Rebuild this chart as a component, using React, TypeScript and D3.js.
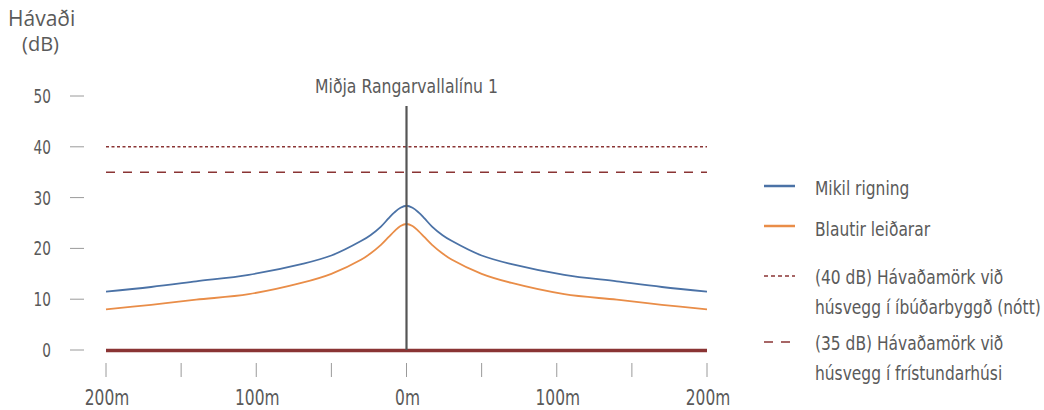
import * as d3 from 'd3'

// distance from line centre (m), negative = left side
const distances = [-200, -170, -140, -105, -70, -50, -30, -24, -17, -12, -8, -4, 0, 4, 8, 12, 17, 24, 30, 50, 70, 105, 140, 170, 200]
const heavyRain = [11.5, 12.4, 13.5, 14.8, 16.9, 18.6, 21.5, 22.6, 24.3, 25.9, 27.1, 28.0, 28.4, 28.0, 27.1, 25.9, 24.3, 22.6, 21.5, 18.6, 16.9, 14.8, 13.5, 12.4, 11.5]
const wetConductors = [8.0, 8.9, 9.9, 11.0, 13.2, 15.0, 17.8, 19.0, 20.7, 22.2, 23.4, 24.4, 24.8, 24.4, 23.4, 22.2, 20.7, 19.0, 17.8, 15.0, 13.2, 11.0, 9.9, 8.9, 8.0]

const yTicks = [0, 10, 20, 30, 40, 50]
const xTicks = [-200, -150, -100, -50, 0, 50, 100, 150, 200]
const xLabelTicks = [-200, -100, 0, 100, 200]

const limitNight = 40
const limitHoliday = 35

const BLUE = '#4b72a6'
const ORANGE = '#e98d48'
const RED = '#8a3434'
const TEXT = '#5a5a5a'
const COND = '"DejaVu Sans Condensed", "DejaVu Sans", sans-serif'

// condensed text: DejaVu Condensed squeezed horizontally to mimic the narrow face
function CText({ x, y, size, sx, anchor = 'start', children }: { x: number; y: number; size: number; sx: number; anchor?: string; children: any }) {
  return (
    <text
      transform={`translate(${x},${y}) scale(${sx},1)`}
      textAnchor={anchor}
      fontFamily={COND}
      fontSize={size}
      fill={TEXT}
    >
      {children}
    </text>
  )
}

export default function App() {
  const x = d3.scaleLinear().domain([-200, 200]).range([106, 707])
  const y = d3.scaleLinear().domain([0, 50]).range([350, 96])

  const line = d3.line<number>()
    .x((_, i) => x(distances[i]))
    .y(d => y(d))
    .curve(d3.curveCatmullRom.alpha(0.5))

  const legend = [
    { kind: 'blue', y: 186, base: 195, lines: ['Mikil rigning'] },
    { kind: 'orange', y: 226, base: 236, lines: ['Blautir leiðarar'] },
    { kind: 'dot', y: 276, base: 284, lines: ['(40 dB) Hávaðamörk við', 'húsvegg í íbúðarbyggð (nótt)'] },
    { kind: 'dash', y: 342, base: 350, lines: ['(35 dB) Hávaðamörk við', 'húsvegg í frístundarhúsi'] },
  ]

  return (
    <div style={{ position: 'absolute', left: 0, top: 0 }}>
      <svg width={1044} height={410} style={{ display: 'block', background: '#fff' }}>
        {/* axis title */}
        <text x={8} y={26} fontFamily='"Open Sans", sans-serif' fontSize={21} fill={TEXT}>Hávaði</text>
        <text x={22} y={51} fontFamily='"Open Sans", sans-serif' fontSize={20} fill={TEXT}>(dB)</text>

        {/* y ticks */}
        {yTicks.map(t => (
          <g key={t}>
            <CText x={51} y={y(t) + 7} size={19} sx={0.8} anchor="end">{t}</CText>
            <line x1={70} x2={84} y1={y(t)} y2={y(t)} stroke="#9a9a9a" strokeWidth={1} />
          </g>
        ))}

        {/* x ticks */}
        {xTicks.map(t => (
          <line key={t} x1={x(t)} x2={x(t)} y1={363} y2={377} stroke="#9a9a9a" strokeWidth={1} />
        ))}
        {xLabelTicks.map(t => (
          <CText key={t} x={x(t) + 1} y={405} size={22} sx={0.78} anchor="middle">{Math.abs(t)}m</CText>
        ))}

        {/* limit lines */}
        <line x1={x(-200)} x2={x(200)} y1={y(limitNight)} y2={y(limitNight)} stroke={RED} strokeWidth={1.6} strokeDasharray="3,2.5" />
        <line x1={x(-200)} x2={x(200)} y1={y(limitHoliday)} y2={y(limitHoliday)} stroke={RED} strokeWidth={1.6} strokeDasharray="9,8" />

        {/* series */}
        <path d={line(heavyRain) ?? ''} fill="none" stroke={BLUE} strokeWidth={1.8} />
        <path d={line(wetConductors) ?? ''} fill="none" stroke={ORANGE} strokeWidth={1.8} />

        {/* ground line */}
        <line x1={x(-200)} x2={x(200)} y1={y(0) + 0.5} y2={y(0) + 0.5} stroke={RED} strokeWidth={3.5} />

        {/* centre line */}
        <line x1={x(0)} x2={x(0)} y1={106} y2={y(0)} stroke="#555" strokeWidth={2.2} />
        <CText x={x(0)} y={93} size={20} sx={0.87} anchor="middle">Miðja Rangarvallalínu 1</CText>

        {/* legend */}
        {legend.map(l => (
          <g key={l.kind}>
            {l.kind === 'blue' && <line x1={764} x2={795} y1={l.y} y2={l.y} stroke={BLUE} strokeWidth={2.5} />}
            {l.kind === 'orange' && <line x1={764} x2={795} y1={l.y} y2={l.y} stroke={ORANGE} strokeWidth={2.5} />}
            {l.kind === 'dot' && <line x1={764} x2={795} y1={l.y} y2={l.y} stroke={RED} strokeWidth={1.6} strokeDasharray="4,3" />}
            {l.kind === 'dash' && <line x1={764} x2={795} y1={l.y} y2={l.y} stroke={RED} strokeWidth={1.6} strokeDasharray="9,8" />}
            {l.lines.map((s, i) => (
              <CText key={i} x={815} y={l.base + i * 30} size={20} sx={0.86}>{s}</CText>
            ))}
          </g>
        ))}
      </svg>
    </div>
  )
}
